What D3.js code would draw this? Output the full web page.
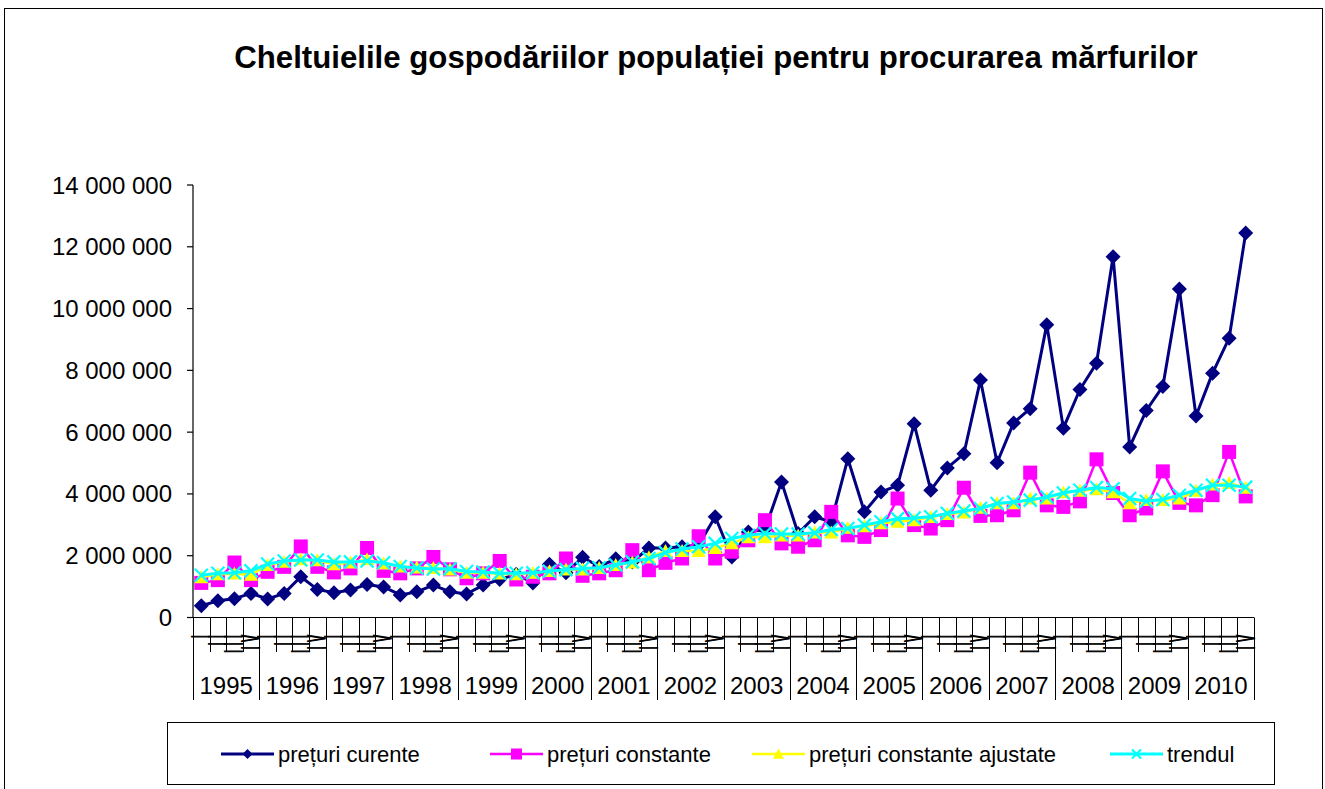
<!DOCTYPE html>
<html>
<head>
<meta charset="utf-8">
<script src="https://cdn.jsdelivr.net/npm/d3@7"></script>
<style>
body{margin:0;background:#fff;}
svg{display:block;font-family:Arial,"Liberation Sans",sans-serif;}
</style>
</head>
<body>
<svg id="chart" width="1325" height="789"></svg>
<script>
var titlu = 'Cheltuielile gospodăriilor populației pentru procurarea mărfurilor';
var years = [1995,1996,1997,1998,1999,2000,2001,2002,2003,2004,2005,2006,2007,2008,2009,2010];
var quarters = ['I','II','III','IV'];
var yTicks = [0,2000000,4000000,6000000,8000000,10000000,12000000,14000000];

var preturiCurente = [
  380000,540000,610000,780000, 600000,780000,1320000,910000,
  800000,890000,1070000,990000, 730000,830000,1050000,830000,
  760000,1050000,1230000,1400000, 1120000,1720000,1450000,1950000,
  1650000,1900000,1800000,2250000, 2250000,2290000,2350000,3260000,
  1960000,2770000,2850000,4390000, 2720000,3260000,3100000,5140000,
  3420000,4060000,4280000,6270000, 4120000,4840000,5300000,7690000,
  5010000,6300000,6760000,9480000, 6130000,7380000,8230000,11680000,
  5520000,6700000,7480000,10630000, 6520000,7910000,9040000,12450000
];
var preturiConstante = [
  1120000,1210000,1780000,1210000, 1480000,1640000,2300000,1640000,
  1460000,1590000,2250000,1510000, 1430000,1590000,1960000,1560000,
  1270000,1430000,1830000,1230000, 1320000,1430000,1910000,1350000,
  1430000,1530000,2180000,1530000, 1770000,1910000,2630000,1910000,
  2130000,2500000,3150000,2400000, 2290000,2500000,3420000,2660000,
  2610000,2830000,3850000,2990000, 2880000,3150000,4200000,3290000,
  3310000,3470000,4690000,3630000, 3580000,3760000,5120000,4030000,
  3310000,3530000,4730000,3710000, 3630000,3960000,5360000,3920000
];
var preturiAjustate = [
  1300000,1400000,1420000,1380000, 1700000,1800000,1880000,1850000,
  1720000,1780000,1880000,1750000, 1650000,1620000,1600000,1550000,
  1450000,1450000,1420000,1400000, 1450000,1500000,1550000,1550000,
  1600000,1700000,1780000,1950000, 2150000,2150000,2150000,2250000,
  2400000,2600000,2600000,2650000, 2650000,2750000,2750000,2900000,
  2950000,3050000,3100000,3150000, 3250000,3350000,3400000,3550000,
  3700000,3700000,3850000,3850000, 4050000,4100000,4150000,4050000,
  3700000,3800000,3800000,3850000, 4100000,4300000,4350000,4200000
];
var trendul = [
  1370000,1430000,1450000,1510000, 1730000,1830000,1860000,1860000,
  1800000,1800000,1830000,1770000, 1650000,1600000,1570000,1580000,
  1490000,1470000,1430000,1430000, 1450000,1500000,1550000,1590000,
  1610000,1700000,1800000,1910000, 2100000,2220000,2290000,2400000,
  2560000,2660000,2720000,2700000, 2700000,2740000,2850000,2880000,
  2990000,3100000,3200000,3220000, 3260000,3370000,3450000,3530000,
  3690000,3740000,3800000,3900000, 4030000,4120000,4210000,4170000,
  3850000,3760000,3820000,3960000, 4120000,4280000,4280000,4220000
];

var serii = [
  {name:'prețuri curente', values:preturiCurente, color:'#000080', width:3, marker:'diamond'},
  {name:'prețuri constante', values:preturiConstante, color:'#ff00ff', width:2.5, marker:'square'},
  {name:'prețuri constante ajustate', values:preturiAjustate, color:'#ffff00', width:2.5, marker:'triangle'},
  {name:'trendul', values:trendul, color:'#00ffff', width:3, marker:'cross'}
];

var svg = d3.select('#chart');
var plotLeft = 193, plotRight = 1254, plotTop = 185, plotBottom = 617.5;

// outer frame
svg.append('rect')
  .attr('x',4.5).attr('y',8.5).attr('width',1318).attr('height',800)
  .attr('fill','none').attr('stroke','#000').attr('stroke-width',1);

svg.append('text')
  .attr('x',716).attr('y',68)
  .attr('text-anchor','middle')
  .attr('font-size',31.2).attr('font-weight','bold')
  .text(titlu);

var keys = [];
years.forEach(function(yr){ quarters.forEach(function(q){ keys.push(yr+'-'+q); }); });

var x = d3.scaleBand().domain(keys).range([plotLeft,plotRight]).padding(0);
var bw = x.bandwidth();
var y = d3.scaleLinear().domain([0,14000000]).range([plotBottom,plotTop]);

var ro = d3.formatLocale({decimal:',',thousands:' ',grouping:[3],currency:['','']});
var fmt = ro.format(',d');

// y axis
svg.append('line').attr('x1',plotLeft).attr('x2',plotLeft).attr('y1',plotTop).attr('y2',plotBottom)
  .attr('stroke','#000').attr('stroke-width',1.2);
var yt = svg.append('g').selectAll('g').data(yTicks).enter().append('g');
yt.append('line')
  .attr('x1',plotLeft-6).attr('x2',plotLeft)
  .attr('y1',function(d){ return y(d); }).attr('y2',function(d){ return y(d); })
  .attr('stroke','#000').attr('stroke-width',1.2);
yt.append('text')
  .attr('x',172).attr('y',function(d){ return y(d)+8.5; })
  .attr('text-anchor','end').attr('font-size',24)
  .text(function(d){ return fmt(d); });

// x axis
svg.append('line').attr('x1',plotLeft).attr('x2',plotRight).attr('y1',plotBottom).attr('y2',plotBottom)
  .attr('stroke','#000').attr('stroke-width',1.2);
var xb = svg.append('g');
keys.forEach(function(k,i){
  var bx = Math.round(x(k))+0.5;
  xb.append('line').attr('x1',bx).attr('x2',bx).attr('y1',plotBottom)
    .attr('y2', i%4===0 ? 700 : 652)
    .attr('stroke','#000').attr('stroke-width',1);
});
xb.append('line').attr('x1',plotRight+0.5).attr('x2',plotRight+0.5).attr('y1',plotBottom).attr('y2',700)
  .attr('stroke','#000').attr('stroke-width',1);

// quarter labels, rotated and stretched like the original
keys.forEach(function(k,i){
  var q = quarters[i%4];
  xb.append('text')
    .attr('transform','translate('+(x(k)+bw-0.5)+',630.5) rotate(-90) scale(1,2.3)')
    .attr('text-anchor','end')
    .attr('font-size',10)
    .attr('letter-spacing',4.6)
    .attr('stroke','#000').attr('stroke-width',0.9)
    .text(q);
});

// year labels
xb.selectAll('.yr').data(years).enter().append('text')
  .attr('class','yr')
  .attr('x',function(d){ return x(d+'-I')+bw*2; })
  .attr('y',694)
  .attr('text-anchor','middle').attr('font-size',24)
  .text(function(d){ return d; });

function marker(g, type, color, s) {
  if (type==='diamond') {
    g.append('path').attr('d','M0,'+(-s)+'L'+s+',0L0,'+s+'L'+(-s)+',0Z').attr('fill',color);
  } else if (type==='square') {
    g.append('rect').attr('x',-s).attr('y',-s).attr('width',2*s).attr('height',2*s).attr('fill',color);
  } else if (type==='triangle') {
    g.append('path').attr('d','M0,'+(-s)+'L'+s+','+(s*0.85)+'L'+(-s)+','+(s*0.85)+'Z').attr('fill',color);
  } else {
    g.append('path').attr('d','M'+(-s)+','+(-s)+'L'+s+','+s+'M'+(-s)+','+s+'L'+s+','+(-s))
      .attr('stroke',color).attr('stroke-width',2.2).attr('fill','none');
  }
}

var line = d3.line()
  .x(function(d,i){ return x(keys[i])+bw/2; })
  .y(function(d){ return y(d); });

var sizes = {diamond:7.5, square:7, triangle:7, cross:6.5};

serii.forEach(function(s){
  var g = svg.append('g');
  g.append('path').datum(s.values)
    .attr('d',line).attr('fill','none')
    .attr('stroke',s.color).attr('stroke-width',s.width).attr('stroke-linejoin','round');
  s.values.forEach(function(v,i){
    var m = g.append('g').attr('transform','translate('+(x(keys[i])+bw/2)+','+y(v)+')');
    marker(m, s.marker, s.color, sizes[s.marker]);
  });
});

// legend
svg.append('rect').attr('x',167.5).attr('y',722.5).attr('width',1107).attr('height',62)
  .attr('fill','#fff').attr('stroke','#000').attr('stroke-width',1);
var legX = [221, 490, 752, 1110];
var legSizes = {diamond:5, square:5.5, triangle:5.5, cross:4.5};
serii.forEach(function(s,i){
  var g = svg.append('g').attr('transform','translate('+legX[i]+',754)');
  g.append('line').attr('x1',0).attr('x2',53).attr('y1',0).attr('y2',0)
    .attr('stroke',s.color).attr('stroke-width',s.width);
  var m = g.append('g').attr('transform','translate(26.5,0)');
  marker(m, s.marker, s.color, legSizes[s.marker]);
  g.append('text').attr('x',57).attr('y',8).attr('font-size',22).text(s.name);
});
</script>
</body>
</html>
